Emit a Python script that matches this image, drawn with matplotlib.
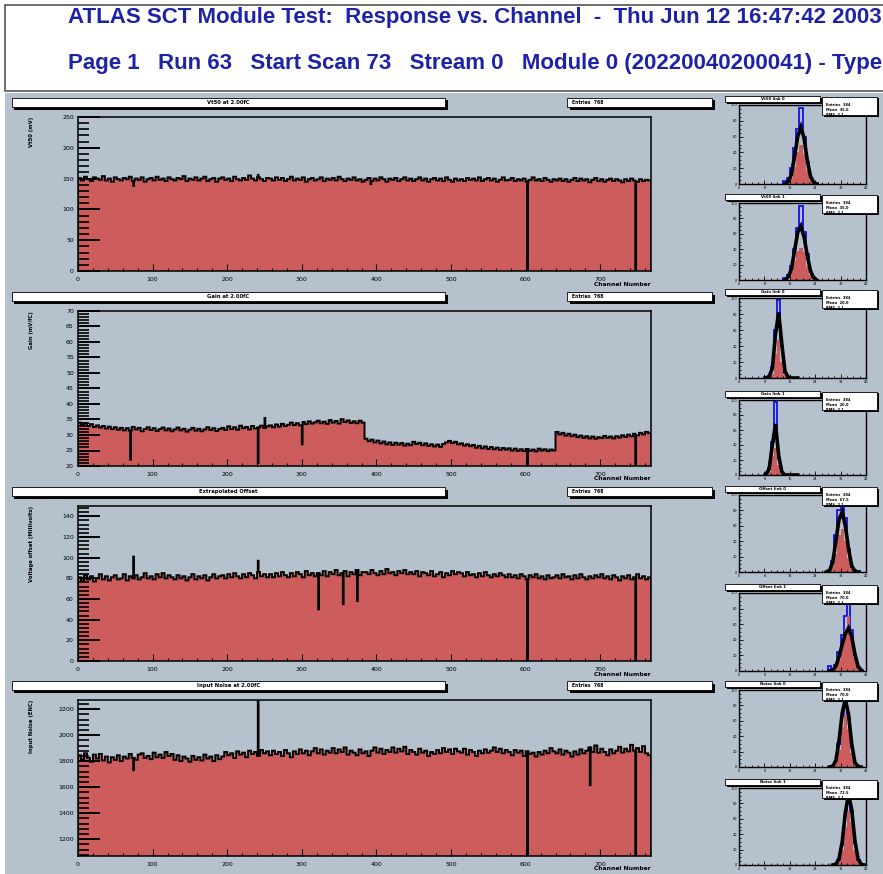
import numpy as np
import matplotlib
matplotlib.use("Agg")
import matplotlib.pyplot as plt
from matplotlib.patches import Rectangle
from matplotlib.ticker import MultipleLocator

W, H = 883, 874
BG = "#b5c1cd"
RED = "#cd5c5c"
NAVY = "#1e22a6"

# ---- data (192 blocks of 4 channels each) ----
channels = np.arange(769)

vt50 = [151, 147, 153, 149, 146, 152, 150, 148, 154, 147, 150, 145, 152, 149, 147, 151,
        149, 153, 146, 150, 148, 152, 145, 149, 151, 147, 153, 148, 150, 146, 152, 149,
        147, 151, 149, 154, 146, 150, 148, 152, 147, 150, 153, 146, 149, 151, 145, 150,
        152, 148, 150, 146, 153, 149, 147, 151, 148, 155, 150, 147, 152, 149, 146, 151,
        150, 147, 152, 148, 151, 146, 149, 153, 147, 150, 148, 152, 145, 149, 151, 147,
        149, 152, 146, 150, 148, 151, 147, 153, 149, 146, 150, 148, 152, 147, 149, 145,
        148, 151, 146, 150, 147, 152, 149, 145, 150, 148, 151, 146, 149, 152, 147, 150,
        146, 149, 152, 147, 150, 145, 149, 151, 147, 150, 146, 152, 148, 145, 150, 147,
        149, 146, 151, 148, 150, 147, 152, 146, 149, 151, 147, 150, 145, 148, 152, 147,
        148, 151, 146, 149, 147, 150, 145, 148, 152, 147, 149, 146, 151, 148, 145, 149,
        147, 150, 146, 149, 145, 148, 151, 146, 150, 147, 149, 144, 148, 151, 146, 149,
        145, 148, 150, 146, 149, 147, 144, 149, 146, 150, 147, 145, 149, 146, 148, 147]
vt50_odd = {602: 0, 747: 0, 74: 138, 241: 156, 392: 141}

gain = [34.0, 33.2, 33.8, 32.9, 33.5, 32.6, 33.1, 32.4, 32.9, 32.1, 32.7, 31.9, 32.5, 31.7, 32.3, 31.5,
        32.2, 31.4, 32.6, 31.8, 32.3, 31.2, 31.9, 32.5, 31.6, 32.2, 31.3, 31.9, 32.4, 31.5, 32.1, 31.2,
        31.8, 32.4, 31.5, 32.0, 31.1, 31.7, 32.3, 31.4, 32.0, 31.2, 31.8, 32.5, 31.6, 32.2, 31.3, 31.9,
        32.3, 31.6, 32.8, 31.9, 32.5, 31.7, 33.0, 32.2, 32.6, 31.8, 32.9, 32.1, 32.4, 33.0, 32.3, 32.8,
        33.1, 32.5, 33.4, 32.7, 33.6, 32.9, 33.3, 34.0, 33.2, 33.8, 33.1, 34.2, 33.5, 34.4, 33.7, 34.1,
        34.6, 33.8, 34.3, 33.6, 34.8, 34.0, 34.5, 33.7, 35.1, 34.2, 34.7, 33.9, 34.4, 33.8, 34.6, 34.0,
        28.8, 28.0, 28.5, 27.6, 28.2, 27.3, 27.9, 27.0, 27.6, 26.8, 27.5, 26.9, 27.4, 26.6, 27.2, 26.7,
        27.8, 27.1, 27.5, 26.7, 27.3, 26.5, 27.0, 26.3, 26.9, 26.2, 27.1, 27.6, 28.1, 27.4, 27.8, 27.0,
        27.3, 26.6, 27.0, 26.4, 26.8, 25.9, 26.5, 25.7, 26.3, 25.5, 26.1, 25.4, 25.9, 25.2, 25.8, 25.3,
        25.7, 25.0, 25.6, 24.9, 25.4, 24.8, 25.5, 24.9, 25.3, 24.7, 25.6, 25.0, 25.4, 24.8, 25.3, 25.0,
        31.0, 30.2, 30.7, 29.8, 30.4, 29.6, 30.1, 29.3, 29.8, 29.1, 29.6, 28.9, 29.5, 28.8, 29.3, 29.0,
        29.7, 29.1, 29.5, 28.9, 29.6, 29.2, 29.9, 29.4, 30.1, 29.6, 30.4, 29.9, 30.7, 30.2, 31.0, 30.6]
gain_odd = {70: 22.0, 241: 21.0, 602: 20.0, 747: 20.0, 300: 27.0, 250: 35.5}

offset = [81, 78, 83, 79, 82, 77, 80, 84, 79, 82, 78, 81, 83, 79, 80, 84,
          78, 82, 80, 83, 79, 81, 85, 80, 82, 79, 84, 81, 85, 80, 83, 81,
          79, 83, 80, 82, 78, 81, 84, 79, 82, 80, 83, 78, 81, 84, 80, 82,
          83, 80, 84, 81, 85, 82, 80, 84, 81, 85, 83, 80, 86, 82, 84, 81,
          84, 81, 85, 82, 86, 83, 81, 85, 82, 86, 84, 81, 87, 83, 85, 82,
          85, 83, 87, 82, 86, 84, 88, 83, 85, 87, 82, 86, 84, 88, 83, 86,
          86, 84, 88, 85, 83, 87, 84, 89, 85, 86, 83, 87, 85, 88, 84, 86,
          84, 87, 82, 86, 85, 83, 87, 82, 84, 86, 81, 85, 83, 87, 84, 86,
          85, 82, 86, 83, 84, 81, 85, 82, 86, 83, 81, 84, 82, 85, 83, 81,
          84, 81, 83, 80, 84, 82, 79, 83, 81, 84, 80, 82, 79, 83, 80, 81,
          83, 80, 84, 81, 82, 79, 83, 80, 84, 81, 79, 82, 80, 83, 81, 84,
          80, 82, 79, 83, 81, 78, 82, 80, 83, 79, 81, 84, 80, 82, 79, 81]
offset_odd = {74: 101, 241: 97, 322: 50, 355: 55, 374: 58, 602: 0, 747: 0}

noise = [1845, 1815, 1860, 1825, 1795, 1850, 1820, 1855, 1805, 1835, 1790, 1830, 1810, 1845, 1800, 1835,
         1820, 1855, 1825, 1810, 1850, 1860, 1825, 1840, 1815, 1865, 1830, 1850, 1825, 1870, 1840, 1855,
         1810, 1845, 1800, 1835, 1820, 1795, 1840, 1810, 1830, 1805, 1850, 1820, 1835, 1800, 1845, 1815,
         1835, 1870, 1845, 1860, 1825, 1875, 1850, 1865, 1830, 1880, 1855, 1870, 1840, 1885, 1860, 1875,
         1845, 1880, 1855, 1870, 1840, 1885, 1860, 1830, 1875, 1855, 1890, 1860, 1880, 1845, 1875, 1900,
         1860, 1890, 1850, 1880, 1865, 1900, 1860, 1890, 1870, 1905, 1850, 1880, 1865, 1845, 1890, 1860,
         1875, 1840, 1880, 1905, 1865, 1895, 1855, 1885, 1870, 1905, 1865, 1895, 1875, 1910, 1855, 1885,
         1870, 1850, 1895, 1865, 1880, 1840, 1870, 1855, 1885, 1860, 1900, 1870, 1890, 1855, 1895, 1875,
         1865, 1895, 1850, 1885, 1870, 1840, 1880, 1860, 1890, 1865, 1880, 1905, 1870, 1895, 1860, 1885,
         1870, 1845, 1885, 1865, 1880, 1840, 1875, 1855, 1865, 1835, 1870, 1850, 1880, 1860, 1900, 1875,
         1860, 1890, 1850, 1880, 1865, 1835, 1875, 1850, 1890, 1860, 1880, 1905, 1870, 1920, 1865, 1895,
         1870, 1845, 1890, 1860, 1880, 1910, 1865, 1895, 1875, 1925, 1880, 1900, 1870, 1915, 1860, 1845]
noise_odd = {74: 1730, 241: 2400, 602: 1000, 686: 1615, 747: 1000}

panel_values = [vt50, gain, offset, noise]
panel_odd = [vt50_odd, gain_odd, offset_odd, noise_odd]
panel_titles = ["Vt50 at 2.00fC", "Gain at 2.00fC", "Extrapolated Offset", "Input Noise at 2.00fC"]
panel_ytitles = ["Vt50 (mV)", "Gain (mV/fC)", "Voltage offset (Millivolts)", "Input Noise (ENC)"]
panel_ylims = [(0, 250), (20, 70), (0, 150), (1070, 2270)]
panel_major = [50, 5, 20, 200]
panel_minor = [10, 1, 4, 40]
panel_stats = ["Entries  768", "Entries  768", "Entries  768", "Entries  768"]

# projections: 40 bins per small panel, (first bin, red, black, blue)
proj_start = [14, 14, 8, 8, 27, 28, 28, 29]
proj_red = [[0, 0, 8, 22, 40, 49, 38, 18, 5, 0, 0],
            [0, 0, 10, 25, 38, 42, 36, 18, 6, 0, 0],
            [0, 0, 5, 30, 48, 20, 4, 0, 0, 0, 0],
            [0, 4, 26, 36, 14, 2, 0, 0, 0, 0, 0],
            [0, 0, 6, 24, 48, 56, 40, 18, 4, 0, 0],
            [0, 0, 4, 14, 32, 52, 70, 46, 18, 4, 0],
            [0, 0, 4, 22, 52, 68, 50, 18, 4, 0, 0],
            [0, 0, 4, 20, 50, 70, 56, 20, 5, 0, 0]]
proj_black = [[0, 3, 12, 35, 60, 72, 58, 30, 10, 2, 0],
              [0, 4, 14, 38, 62, 70, 56, 32, 12, 3, 0],
              [0, 2, 12, 55, 82, 42, 8, 1, 0, 0, 0],
              [1, 8, 40, 68, 26, 4, 0, 0, 0, 0, 0],
              [0, 2, 12, 40, 68, 78, 60, 30, 8, 1, 0],
              [0, 1, 6, 18, 34, 48, 55, 44, 22, 6, 1],
              [0, 1, 8, 34, 70, 88, 68, 30, 6, 1, 0],
              [0, 1, 8, 30, 68, 92, 72, 32, 8, 1, 0]]
proj_blue = [[4, 8, 20, 45, 70, 96, 60, 28, 8, 2, 1],
             [2, 6, 18, 40, 68, 96, 62, 34, 10, 2, 0],
             [1, 3, 14, 60, 98, 40, 6, 1, 0, 0, 0],
             [2, 10, 44, 98, 22, 4, 0, 0, 0, 0, 0],
             [0, 3, 14, 48, 80, 96, 70, 30, 6, 2, 1],
             [6, 2, 8, 24, 46, 70, 92, 52, 20, 4, 1],
             [0, 1, 6, 30, 66, 84, 64, 26, 5, 0, 0],
             [0, 1, 6, 26, 64, 88, 70, 28, 6, 0, 0]]
proj_titles = ["Vt50 link 0", "Vt50 link 1", "Gain link 0", "Gain link 1",
               "Offset link 0", "Offset link 1", "Noise link 0", "Noise link 1"]

# ---- layout (pixel boxes) ----
main_frames = [(78, 117, 651, 271), (78, 311, 651, 466), (78, 506, 651, 661), (78, 700, 651, 856)]
small_frames = [(739, 105, 866, 184), (739, 203, 866, 280), (739, 298, 866, 378), (739, 400, 866, 475),
                (739, 495, 866, 572), (739, 593, 866, 671), (739, 690, 866, 767), (739, 788, 866, 865)]


def frac(x0, y0, x1, y1):
    return [x0 / W, 1 - y1 / H, (x1 - x0) / W, (y1 - y0) / H]


def fbox(fig, x0, y0, x1, y1, text="", fs=3.5, tx=None, shadow=2.5):
    fig.add_artist(Rectangle(((x0 + shadow) / W, 1 - (y1 + shadow) / H), (x1 - x0) / W, (y1 - y0) / H,
                             transform=fig.transFigure, facecolor="black", edgecolor="none", zorder=5))
    fig.add_artist(Rectangle((x0 / W, 1 - y1 / H), (x1 - x0) / W, (y1 - y0) / H,
                             transform=fig.transFigure, facecolor="white", edgecolor="black", lw=0.6, zorder=6))
    if text:
        cx = (x0 + x1) / 2 if tx is None else tx
        fig.text(cx / W, 1 - (y0 + y1) / 2 / H, text, fontsize=fs, ha="center" if tx is None else "left",
                 va="center", family="DejaVu Sans", fontweight="bold", zorder=7)


fig = plt.figure(figsize=(W / 100, H / 100), dpi=100, facecolor="white")

# canvas background and header
fig.add_artist(Rectangle((5 / W, 0), 1, 1 - 93 / H, transform=fig.transFigure, facecolor=BG,
                         edgecolor="none", zorder=-10))
fig.add_artist(Rectangle((5 / W, 1 - 91 / H), 1, 86 / H, transform=fig.transFigure,
                         facecolor="white", edgecolor="#555555", lw=1.2, zorder=-10))
hfont = ["Liberation Sans", "DejaVu Sans"]
fig.text(68 / W, 1 - 17 / H, "ATLAS SCT Module Test:  Response vs. Channel  -  Thu Jun 12 16:47:42 2003",
         fontsize=16, fontweight="bold", color=NAVY, va="center", family=hfont)
fig.text(68 / W, 1 - 63 / H, "Page 1   Run 63   Start Scan 73   Stream 0   Module 0 (20220040200041) - Type",
         fontsize=16, fontweight="bold", color=NAVY, va="center", family=hfont)

for i in range(4):
    x0, y0, x1, y1 = main_frames[i]
    ax = fig.add_axes(frac(x0, y0, x1, y1))
    ax.set_facecolor(BG)
    vals = np.repeat(np.array(panel_values[i], dtype=float), 4)
    for ch, v in panel_odd[i].items():
        vals[ch] = v
    base = panel_ylims[i][0]
    ax.stairs(vals, channels, baseline=base, fill=True, color=RED)
    ax.stairs(vals, channels, baseline=base, color="black", lw=1.4)
    ax.set_xlim(0, 768)
    ax.set_ylim(*panel_ylims[i])
    ax.xaxis.set_major_locator(MultipleLocator(100))
    ax.xaxis.set_minor_locator(MultipleLocator(20))
    ax.yaxis.set_major_locator(MultipleLocator(panel_major[i]))
    ax.yaxis.set_minor_locator(MultipleLocator(panel_minor[i]))
    ax.tick_params(axis="y", which="major", direction="in", length=16, width=1.4, labelsize=4.5, pad=3)
    ax.tick_params(axis="y", which="minor", direction="in", length=8, width=1.2)
    ax.tick_params(axis="x", which="major", direction="in", length=5, width=0.8, labelsize=4.5, pad=4)
    ax.tick_params(axis="x", which="minor", direction="in", length=2.5, width=0.8)
    for s in ax.spines.values():
        s.set_linewidth(1.1)
    fig.text(x1 / W, 1 - (y1 + 13) / H, "Channel Number", fontsize=4.3, ha="right", va="center",
             fontweight="bold")
    fig.text(32 / W, 1 - y0 / H, panel_ytitles[i], rotation=90, fontsize=3.8, ha="center", va="top",
             fontweight="bold")
    fbox(fig, 12, y0 - 19, 445, y0 - 10, panel_titles[i], fs=3.8)
    fbox(fig, 567, y0 - 19, 712, y0 - 10, panel_stats[i], fs=3.3, tx=572)

for j in range(8):
    x0, y0, x1, y1 = small_frames[j]
    ax = fig.add_axes(frac(x0, y0, x1, y1))
    ax.set_facecolor(BG)
    s = proj_start[j]
    edges = np.arange(s, s + 12)
    ax.stairs(proj_blue[j], edges, color="#1010ee", lw=1.3)
    ax.plot(np.arange(s, s + 11) + 0.5, proj_black[j], color="black", lw=2.6, solid_joinstyle="miter")
    ax.stairs(proj_red[j], edges, fill=True, color=RED)
    ax.set_xlim(0, 40)
    ax.set_ylim(0, 100)
    ax.xaxis.set_major_locator(MultipleLocator(8))
    ax.xaxis.set_minor_locator(MultipleLocator(2))
    ax.yaxis.set_major_locator(MultipleLocator(20))
    ax.yaxis.set_minor_locator(MultipleLocator(5))
    ax.tick_params(which="both", direction="in", labelsize=2.5, pad=1.5, width=0.6)
    ax.tick_params(which="major", length=3)
    ax.tick_params(which="minor", length=1.5)
    for sp in ax.spines.values():
        sp.set_linewidth(1.0)
    fbox(fig, 725, y0 - 9, 820, y0 - 3, proj_titles[j], fs=2.8, shadow=1.5)
    fbox(fig, 822, y0 - 8, 877, y0 + 10, "", shadow=1.5)
    fig.text(826 / W, 1 - (y0 - 2) / H, "Entries  384\nMean  " + str(round(s * 2.5, 1)) + "\nRMS  2.1",
             fontsize=2.6, va="top", ha="left", linespacing=1.3, fontweight="bold", zorder=8)

fig.savefig("out.png", dpi=100, facecolor="white")
